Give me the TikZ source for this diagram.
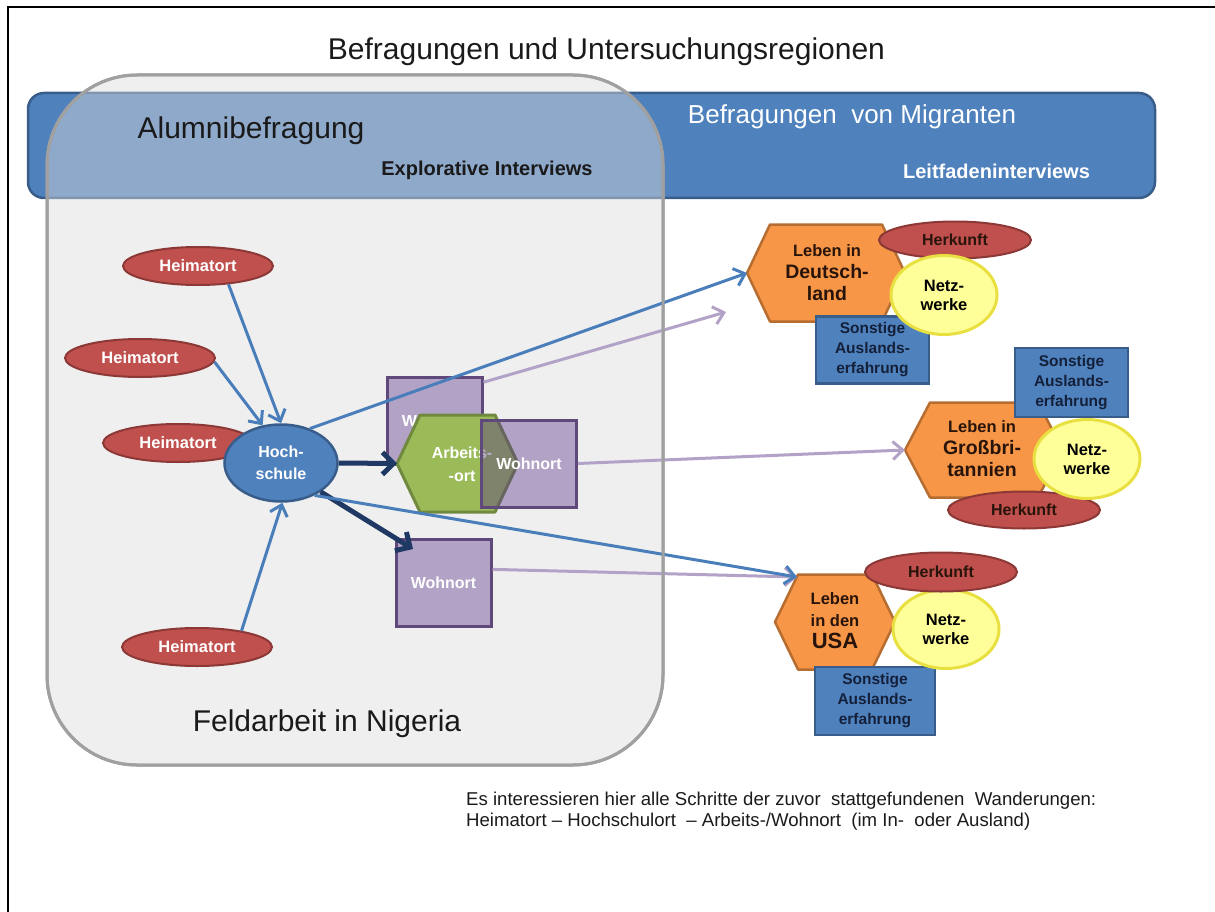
\documentclass[tikz,border=0pt]{standalone}
\usepackage{fontspec}
\setmainfont{Liberation Sans}
\usetikzlibrary{arrows.meta,shapes.geometric}

\definecolor{barblue}{RGB}{79,129,189}
\definecolor{barline}{RGB}{56,93,138}
\definecolor{boxgray}{RGB}{219,219,219}
\definecolor{boxline}{RGB}{160,160,160}
\definecolor{hred}{RGB}{192,80,77}
\definecolor{hredline}{RGB}{140,56,54}
\definecolor{wpurple}{RGB}{88,49,138}
\definecolor{wline}{RGB}{95,73,122}
\definecolor{agreen}{RGB}{155,187,89}
\definecolor{agreenline}{RGB}{113,137,63}
\definecolor{lorange}{RGB}{247,150,70}
\definecolor{lorangeline}{RGB}{182,109,49}
\definecolor{nyellow}{RGB}{255,255,153}
\definecolor{nyellowline}{RGB}{232,224,64}
\definecolor{arrowblue}{RGB}{74,126,187}
\definecolor{navyarrow}{RGB}{31,56,100}
\definecolor{lav}{RGB}{179,162,199}
\definecolor{darktext}{RGB}{26,26,26}
\definecolor{navytext}{RGB}{20,32,58}
\definecolor{browntext}{RGB}{40,20,10}

\newcommand{\fs}[2]{\fontsize{#1}{#2}\selectfont}
% hexagon with pointed left/right ends: center x, center y, half width, half height, tip depth
\newcommand{\hexpath}[6][]{%
  \draw[#1] (#2-#4,#3) -- (#2-#4+#6,#3-#5) -- (#2+#4-#6,#3-#5) -- (#2+#4,#3)
    -- (#2+#4-#6,#3+#5) -- (#2-#4+#6,#3+#5) -- cycle;}
\newcommand{\placesize}{\fs{19.5}{22}}

\begin{document}
\begin{tikzpicture}[x=1pt,y=-1pt,
  heim/.style={ellipse, fill=hred, draw=hredline, line width=2, minimum width=150,
    minimum height=38, inner sep=0, text=white, font=\bfseries\fs{16.5}{20}},
  herk/.style={ellipse, fill=hred, draw=hredline, line width=2, minimum width=152,
    minimum height=37, inner sep=0, text=browntext, font=\bfseries\fs{16}{20}},
  netz/.style={ellipse, fill=nyellow, draw=nyellowline, line width=3, minimum width=106,
    minimum height=79, inner sep=0, text=black, align=center, font=\bfseries\fs{16.5}{19}},
  sonst/.style={rectangle, fill=barblue, draw=barline, line width=2.5, minimum width=113,
    minimum height=67, inner sep=0, text=navytext, align=center, font=\bfseries\fs{15.5}{20}},
  wbox/.style={rectangle, fill=wpurple, fill opacity=0.4, text opacity=1, draw=wline,
    line width=3, minimum width=95, minimum height=87, inner sep=0, text=white,
    font=\bfseries\fs{16}{20}},
  regionbox/.style={rectangle, rounded corners=90, minimum width=616, minimum height=690,
    line width=3},
  hexorange/.style={fill=lorange, draw=lorangeline, line width=2.5, line join=round},
  hexgreen/.style={fill=agreen, draw=agreenline, line width=3, line join=round},
  hextext/.style={align=center, text=browntext, inner sep=0, font=\bfseries\fs{16.5}{22}},
  barrow/.style={draw=arrowblue, line width=3, -{Straight Barb[length=10,width=18]}},
  narrow/.style={draw=navyarrow, line width=5, -{Straight Barb[length=11,width=22]}},
  larrow/.style={draw=lav, line width=3, -{Straight Barb[length=10,width=18]}}
]
\useasboundingbox (0,0) rectangle (1215,912);

% outer frame
\draw[line width=2.5, black] (8,912) -- (8,7) -- (1215,7);

% title
\node[font=\fs{30}{36}, text=darktext] (title) at (606.5,52) {Befragungen und Untersuchungsregionen};

% survey bar
\node[rectangle, rounded corners=16, fill=barblue, draw=barline, line width=2.5,
  minimum width=1127, minimum height=105] (bar) at (591.5,145.5) {};
\node[font=\fs{26}{30}, text=white] (migr) at (852,117) {Befragungen\ \ von Migranten};
\node[font=\bfseries\fs{20}{24}, text=white] (leitf) at (996.5,171) {Leitfadeninterviews};

% alumni survey / fieldwork region
\node[regionbox, fill=boxgray, fill opacity=0.45, draw=boxline] (alumni) at (355,420) {};
\node[font=\fs{30}{36}, text=darktext] (alumtxt) at (251,131) {Alumnibefragung};
\node[font=\bfseries\fs{20}{24}, text=darktext] (explo) at (487,170) {Explorative Interviews};
\node[font=\fs{30}{36}, text=darktext] (feld) at (327,724) {Feldarbeit in Nigeria};

% home towns and university
\node[heim] (h1) at (198,266) {Heimatort};
\node[heim] (h2) at (140,358) {Heimatort};
\node[heim] (h3) at (178,443) {Heimatort};
\node[heim] (h4) at (197,647) {Heimatort};
\node[ellipse, fill=barblue, draw=barline, line width=2.5, minimum width=113,
  minimum height=77, inner sep=0, text=white, align=center,
  font=\bfseries\fs{16}{22}] (hs) at (281,463) {Hoch-\\schule};

% places of work and residence
\node[wbox] (wA) at (434.5,420.5) {Wohnort};
\hexpath[hexgreen]{457.5}{463.5}{60.5}{48.5}{23}
\coordinate (arb-w) at (397,463.5);
\node[align=center, text=white, inner sep=0, font=\bfseries\fs{16}{23}] (arb) at (462,464) {Arbeits-\\-ort};
\node[wbox] (wB) at (529,463.5) {Wohnort};
\node[wbox] (wC) at (443.5,582.5) {Wohnort};

% Germany
\hexpath[hexorange]{826}{273}{79}{48.5}{23}
\coordinate (de-w) at (747,273);
\node[hextext] (de) at (827,273) {Leben in\\\placesize Deutsch-\\\placesize land};
\node[herk] (de-herk) at (955,240) {Herkunft};
\node[sonst] (de-sonst) at (872.5,350) {Sonstige\\Auslands-\\erfahrung};
\node[netz] (de-netz) at (944,295) {Netz-\\werke};

% Great Britain
\hexpath[hexorange]{984}{450}{79}{47.5}{25}
\coordinate (gb-w) at (905,450);
\node[hextext] (gb) at (982,449) {Leben in\\\placesize Großbri-\\\placesize tannien};
\node[sonst, minimum height=69] (gb-sonst) at (1071.5,382.5) {Sonstige\\Auslands-\\erfahrung};
\node[herk] (gb-herk) at (1024,510) {Herkunft};
\node[netz] (gb-netz) at (1087,459) {Netz-\\werke};

% USA
\hexpath[hexorange]{835}{622}{60}{47.5}{23}
\coordinate (usa-nw) at (797,577);
\node[hextext] (usa) at (835,621) {Leben\\in den\\\fs{22}{22}USA};
\node[sonst, minimum width=120, minimum height=68] (usa-sonst) at (875,701) {Sonstige\\Auslands-\\erfahrung};
\node[netz] (usa-netz) at (946,629) {Netz-\\werke};
\node[herk, minimum height=39] (usa-herk) at (941,572) {Herkunft};

% migration steps in Nigeria
\draw[barrow] (h1.-31) -- (hs.north);
\draw[barrow] (h2.-3) -- (hs.116);
\draw[barrow] (h4.20) -- (hs.-88);
\draw[narrow] (hs.east) -- (arb-w);
\coordinate (wC-in) at (413,549);
\draw[narrow] (hs.-36) -- (wC-in);

% moves abroad
\coordinate (de-lav) at (726,312);
\draw[larrow] (wA.38) -- (de-lav);
\draw[larrow] (wB.east) -- (gb-w);
\draw[larrow] (wC.15) -- (usa-nw);
\draw[barrow] (hs.50) -- (de-w);
\draw[barrow] (hs.-44) -- (usa-nw);

% region outline stays on top of the crossing arrows
\node[regionbox, draw=boxline] (alumni-edge) at (alumni.center) {};

% note
\node[anchor=north west, align=left, inner sep=0, text=darktext,
  font=\fs{18.6}{21}] (note) at (466,792)
  {Es interessieren hier alle Schritte der zuvor\ \ stattgefundenen\ \ Wanderungen:\\
   Heimatort – Hochschulort\ \ – Arbeits-/Wohnort\ \ (im In-\ \ oder Ausland)};
\end{tikzpicture}
\end{document}
